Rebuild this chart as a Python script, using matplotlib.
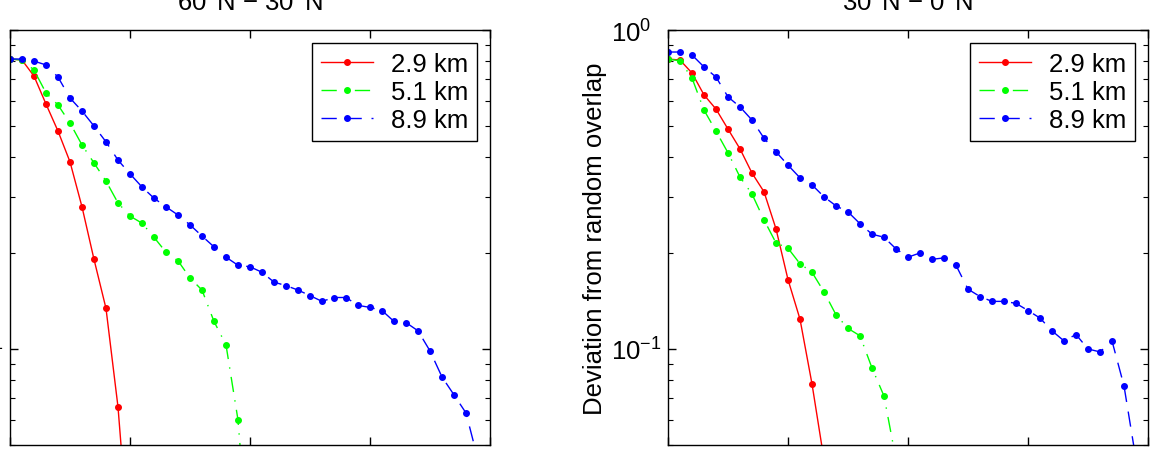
import numpy as np
import matplotlib
matplotlib.use("Agg")
import matplotlib.pyplot as plt
from matplotlib.ticker import LogLocator, NullFormatter, FixedLocator

plt.rcParams['font.family'] = ['Liberation Sans', 'DejaVu Sans']
plt.rcParams['mathtext.default'] = 'regular'

# ---------------- data ----------------
distance_km = np.arange(0, 2001, 50)          # 41 sample positions
titles = [r"60$^{o}$N − 30$^{o}$N", r"30$^{o}$N − 0$^{o}$N"]
series_labels = ["2.9 km", "5.1 km", "8.9 km"]
x_ticks = [0, 500, 1000, 1500, 2000]

# 60N - 30N
nh_29 = [0.811, 0.805, 0.717, 0.586, 0.482, 0.386, 0.279, 0.191, 0.134, 0.0658, 0.022]
nh_51 = [0.811, 0.805, 0.749, 0.635, 0.582, 0.511, 0.436, 0.383, 0.336, 0.287,
         0.261, 0.248, 0.224, 0.201, 0.189, 0.167, 0.153, 0.122, 0.103, 0.0599, 0.020]
nh_89 = [0.811, 0.811, 0.799, 0.777, 0.712, 0.612, 0.557, 0.500, 0.446, 0.391,
         0.354, 0.322, 0.297, 0.279, 0.263, 0.245, 0.226, 0.209, 0.194, 0.183,
         0.181, 0.174, 0.162, 0.158, 0.153, 0.147, 0.141, 0.145, 0.145, 0.137,
         0.135, 0.132, 0.122, 0.121, 0.114, 0.0986, 0.0817, 0.0718, 0.0630, 0.045]

# 30N - 0N
tr_29 = [0.811, 0.805, 0.733, 0.626, 0.565, 0.489, 0.424, 0.356, 0.311, 0.238,
         0.165, 0.124, 0.0777, 0.045]
tr_51 = [0.811, 0.800, 0.707, 0.561, 0.482, 0.412, 0.346, 0.306, 0.254, 0.215,
         0.207, 0.185, 0.174, 0.151, 0.128, 0.116, 0.110, 0.0872, 0.0712, 0.045]
tr_89 = [0.853, 0.853, 0.835, 0.766, 0.712, 0.617, 0.574, 0.522, 0.458, 0.415,
         0.377, 0.344, 0.327, 0.300, 0.281, 0.269, 0.247, 0.229, 0.224, 0.206,
         0.194, 0.200, 0.191, 0.193, 0.183, 0.154, 0.146, 0.141, 0.141, 0.139,
         0.132, 0.125, 0.114, 0.106, 0.111, 0.100, 0.0979, 0.106, 0.0766, 0.045]

panels = [(nh_29, nh_51, nh_89), (tr_29, tr_51, tr_89)]

# ---------------- styling ----------------
FS = 18.5
colors = ['#ff0000', '#00ff00', '#0000ff']
dashes = [None, (11, 6, 1, 6), (11, 7)]

W, H = 1152, 456
fig = plt.figure(figsize=(W / 100, H / 100), dpi=100)
ax_rects = [[10 / W, 10 / H, 480 / W, 415 / H],
            [668 / W, 10 / H, 480 / W, 415 / H]]

for k, (rect, data) in enumerate(zip(ax_rects, panels)):
    ax = fig.add_axes(rect)
    for vals, lab, col, dsh in zip(data, series_labels, colors, dashes):
        x = distance_km[:len(vals)]
        line, = ax.plot(x, vals, color=col, lw=1.0, marker='.', ms=8, label=lab)
        if dsh is not None:
            line.set_dashes(dsh)
    ax.set_yscale('log')
    ax.set_ylim(0.05, 1.0)
    ax.set_xlim(0, 2000)
    ax.xaxis.set_major_locator(FixedLocator(x_ticks))
    ax.yaxis.set_major_locator(LogLocator(base=10, numticks=10))
    ax.yaxis.set_minor_locator(LogLocator(base=10, subs=np.arange(2, 10), numticks=20))
    ax.yaxis.set_minor_formatter(NullFormatter())
    ax.tick_params(which='both', direction='in', top=True, right=True,
                   labelbottom=False, labelsize=FS)
    ax.tick_params(which='major', length=6, width=1.0)
    ax.tick_params(which='minor', length=3.5, width=0.8)
    ax.tick_params(axis='y', which='major', pad=41)
    for t in ax.get_yticklabels():
        t.set_horizontalalignment('left')
    for sp in ax.spines.values():
        sp.set_linewidth(1.0)
    ax.set_title(titles[k], fontsize=FS, pad=14.5)
    ax.set_ylabel("Deviation from random overlap", fontsize=FS)
    ax.yaxis.set_label_coords(-0.127, 0.5)
    leg = ax.legend(loc='upper right', fontsize=FS, numpoints=1, fancybox=False,
                    framealpha=1, edgecolor='black', labelspacing=0.15,
                    borderpad=0.35, handlelength=2.0, handletextpad=0.7,
                    borderaxespad=0.5)
    leg.get_frame().set_linewidth(1.0)

fig.savefig("out.png", dpi=100)
